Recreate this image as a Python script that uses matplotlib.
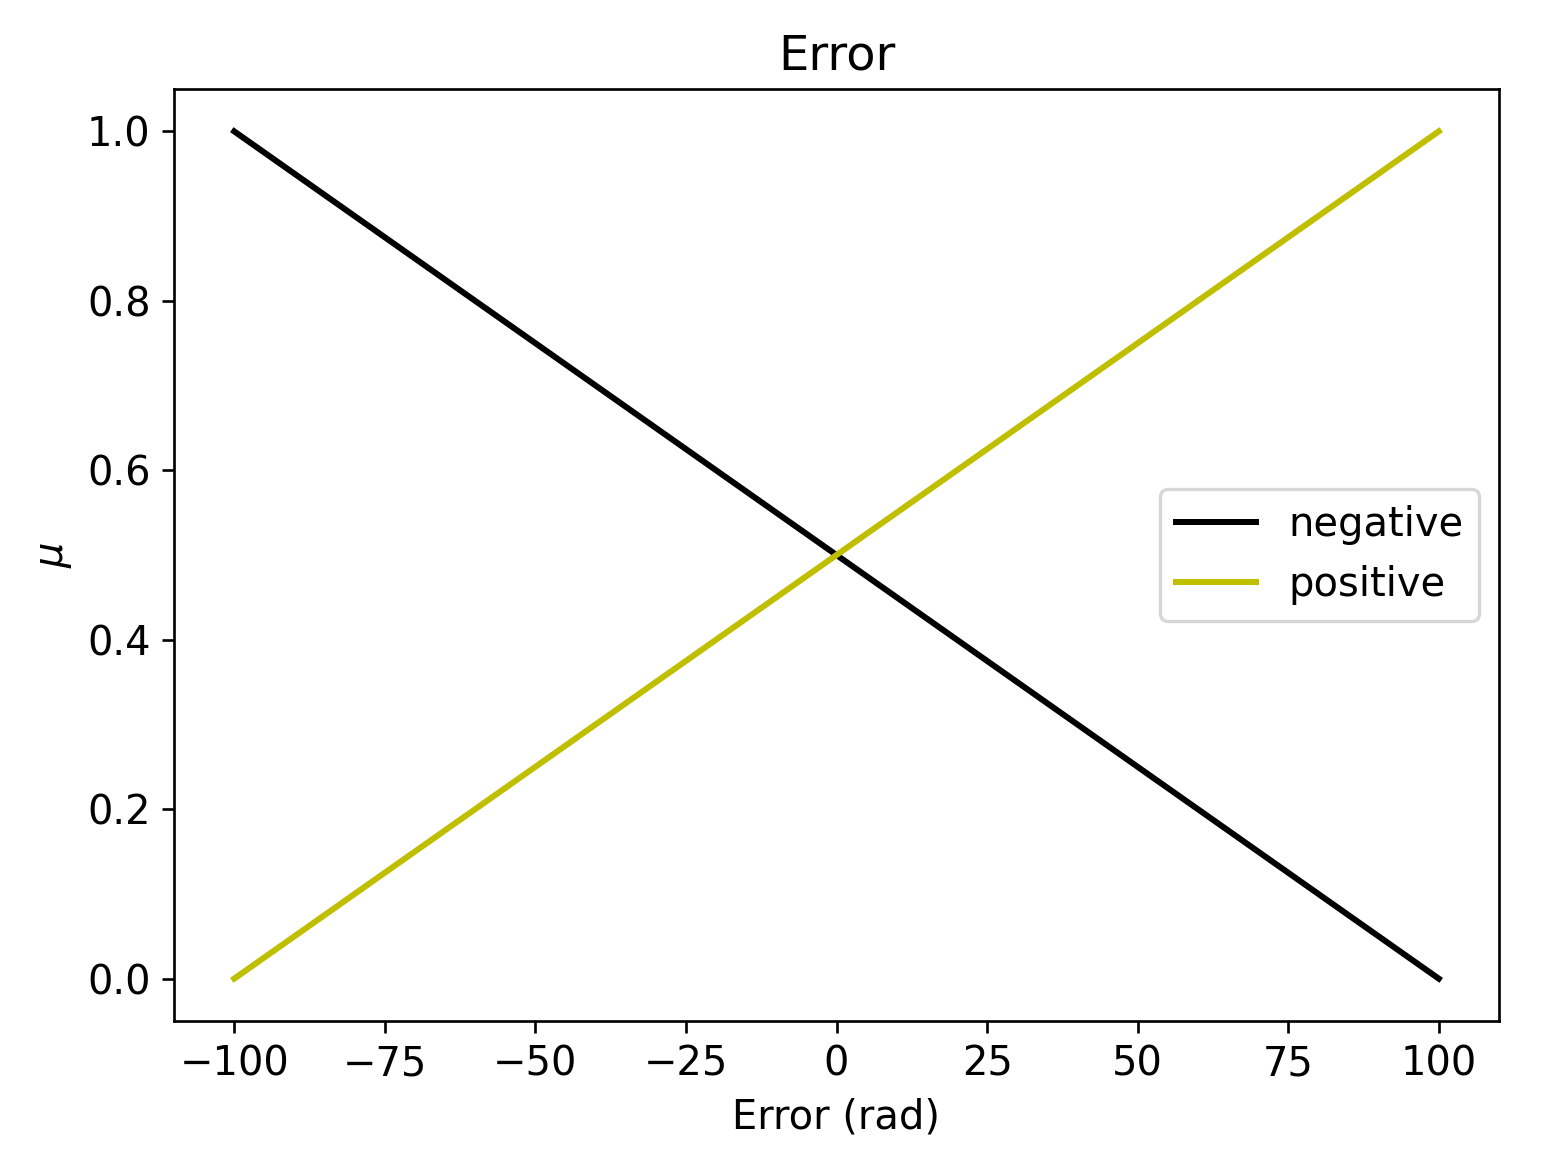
import matplotlib
matplotlib.use("Agg")
import matplotlib.pyplot as plt

error_rad = [-100, 100]
mu_negative = [1.0, 0.0]
mu_positive = [0.0, 1.0]

plt.rcParams['font.size'] = 12

fig = plt.figure(figsize=(1543 / 240, 1171 / 240), dpi=240)
ax = fig.add_axes([174 / 1543, 1 - 1021 / 1171, (1499 - 174) / 1543, (1021 - 89) / 1171])

ax.plot(error_rad, mu_negative, 'k', lw=1.8, label='negative')
ax.plot(error_rad, mu_positive, 'y', lw=1.8, label='positive')
ax.set_title('Error')
ax.set_xlabel('Error (rad)')
ax.set_ylabel(r'$\mu$')
ax.legend(loc='center right')

fig.savefig('out.png', dpi=240)
